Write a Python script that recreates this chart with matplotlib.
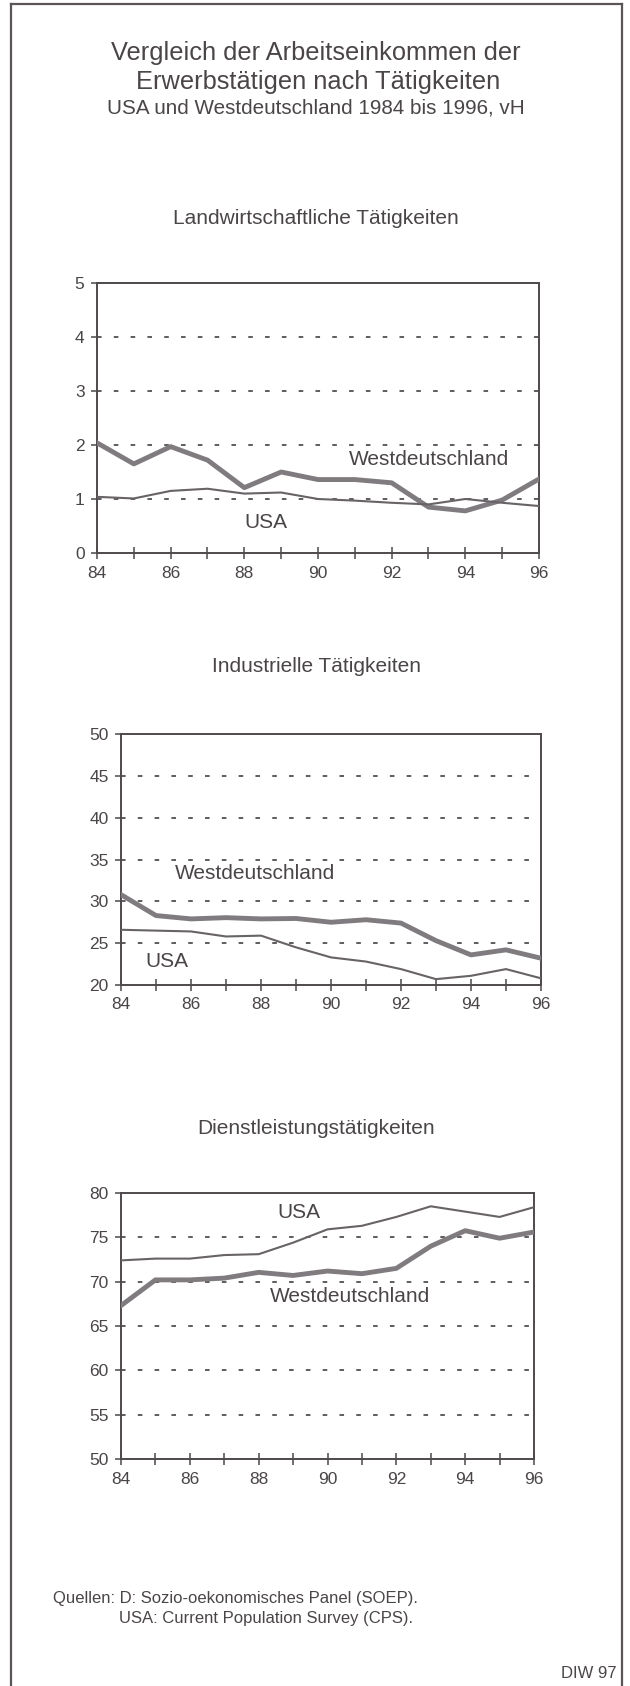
import matplotlib.pyplot as plt
from matplotlib.lines import Line2D

plt.rcParams['font.family'] = ['Liberation Sans', 'DejaVu Sans']

W, H = 630, 1686
TXT = '#4a4548'

years = list(range(84, 97))
year_labels = [str(y) if y % 2 == 0 else '' for y in years]

# Landwirtschaftliche Taetigkeiten
agr_west = [2.04, 1.65, 1.97, 1.72, 1.21, 1.50, 1.36, 1.36, 1.30, 0.85, 0.78, 0.98, 1.37]
agr_usa = [1.04, 1.01, 1.15, 1.19, 1.10, 1.12, 1.00, 0.97, 0.93, 0.90, 1.00, 0.93, 0.87]

# Industrielle Taetigkeiten
ind_west = [30.8, 28.3, 27.9, 28.05, 27.9, 27.95, 27.5, 27.8, 27.4, 25.3, 23.6, 24.2, 23.2]
ind_usa = [26.6, 26.5, 26.4, 25.8, 25.9, 24.5, 23.3, 22.8, 21.9, 20.7, 21.1, 21.9, 20.8]

# Dienstleistungstaetigkeiten
svc_west = [67.3, 70.2, 70.2, 70.4, 71.05, 70.7, 71.2, 70.9, 71.5, 74.0, 75.75, 74.9, 75.6]
svc_usa = [72.4, 72.6, 72.6, 73.0, 73.1, 74.4, 75.9, 76.3, 77.3, 78.5, 77.9, 77.3, 78.4]


def fx(x):
    return x / W


def fy(y):
    return 1 - y / H


fig = plt.figure(figsize=(W / 100, H / 100), dpi=100)

# outer frame (no bottom line)
for xs, ys in [([11, 11], [4, H + 5]), ([11, 622], [4, 4]), ([622, 622], [4, H + 5])]:
    fig.add_artist(Line2D([fx(v) for v in xs], [fy(v) for v in ys],
                          color='#5a5558', lw=1.6, transform=fig.transFigure))

fig.text(fx(316), fy(53), 'Vergleich der Arbeitseinkommen der', ha='center', va='center',
         fontsize=18.3, color=TXT)
fig.text(fx(318), fy(82), 'Erwerbstätigen nach Tätigkeiten', ha='center', va='center',
         fontsize=18.3, color=TXT)
fig.text(fx(316), fy(108), 'USA und Westdeutschland 1984 bis 1996, vH', ha='center', va='center',
         fontsize=14.9, color=TXT)

panels = [
    dict(title='Landwirtschaftliche Tätigkeiten', ty=219, box=(97, 283, 539, 553),
         ylim=(0, 5), step=1, west=agr_west, usa=agr_usa,
         wpos=(90.85, 1.74), upos=(88.0, 0.56)),
    dict(title='Industrielle Tätigkeiten', ty=667, box=(121, 734, 541, 985),
         ylim=(20, 50), step=5, west=ind_west, usa=ind_usa,
         wpos=(85.55, 33.3), upos=(84.7, 22.75)),
    dict(title='Dienstleistungstätigkeiten', ty=1129, box=(121, 1193, 534, 1459),
         ylim=(50, 80), step=5, west=svc_west, usa=svc_usa,
         wpos=(88.33, 68.3), upos=(88.55, 77.75)),
]

for p in panels:
    x0, y0, x1, y1 = p['box']
    ax = fig.add_axes([fx(x0), fy(y1), fx(x1) - fx(x0), fy(y0) - fy(y1)])
    lo, hi = p['ylim']
    ax.set_xlim(84, 96)
    ax.set_ylim(lo, hi)
    yt = list(range(lo, hi + 1, p['step']))
    for v in yt[1:-1]:
        ax.axhline(v, color='#333033', lw=1.1, dashes=(3, 8), zorder=1)
    ax.plot(years, p['west'], color='#7f7b7f', lw=3.5, solid_joinstyle='round', zorder=3)
    ax.plot(years, p['usa'], color='#676366', lw=1.5, solid_joinstyle='round', zorder=4)
    ax.text(p['wpos'][0], p['wpos'][1], 'Westdeutschland', fontsize=15, color=TXT,
            va='center', ha='left')
    ax.text(p['upos'][0], p['upos'][1], 'USA', fontsize=15, color=TXT,
            va='center', ha='left')
    ax.set_xticks(years)
    ax.set_xticklabels(year_labels)
    ax.set_yticks(yt)
    ax.tick_params(axis='x', direction='inout', length=8, width=1.1, color='#4d494c',
                   labelsize=12.5, labelcolor=TXT, pad=5)
    ax.tick_params(axis='y', direction='out', length=4, width=1.1, color='#4d494c',
                   labelsize=12.5, labelcolor=TXT, pad=5)
    for s in ax.spines.values():
        s.set_color('#4d494c')
        s.set_linewidth(1.4)
    fig.text(fx(316), fy(p['ty']), p['title'], ha='center', va='center',
             fontsize=15, color=TXT)

fig.text(fx(53), fy(1599), 'Quellen: D: Sozio-oekonomisches Panel (SOEP).', ha='left', va='center',
         fontsize=12, color=TXT)
fig.text(fx(119), fy(1619), 'USA: Current Population Survey (CPS).', ha='left', va='center',
         fontsize=12, color=TXT)
fig.text(fx(617), fy(1673), 'DIW 97', ha='right', va='center', fontsize=12, color=TXT)

fig.savefig('out.png', dpi=100, facecolor='white')
